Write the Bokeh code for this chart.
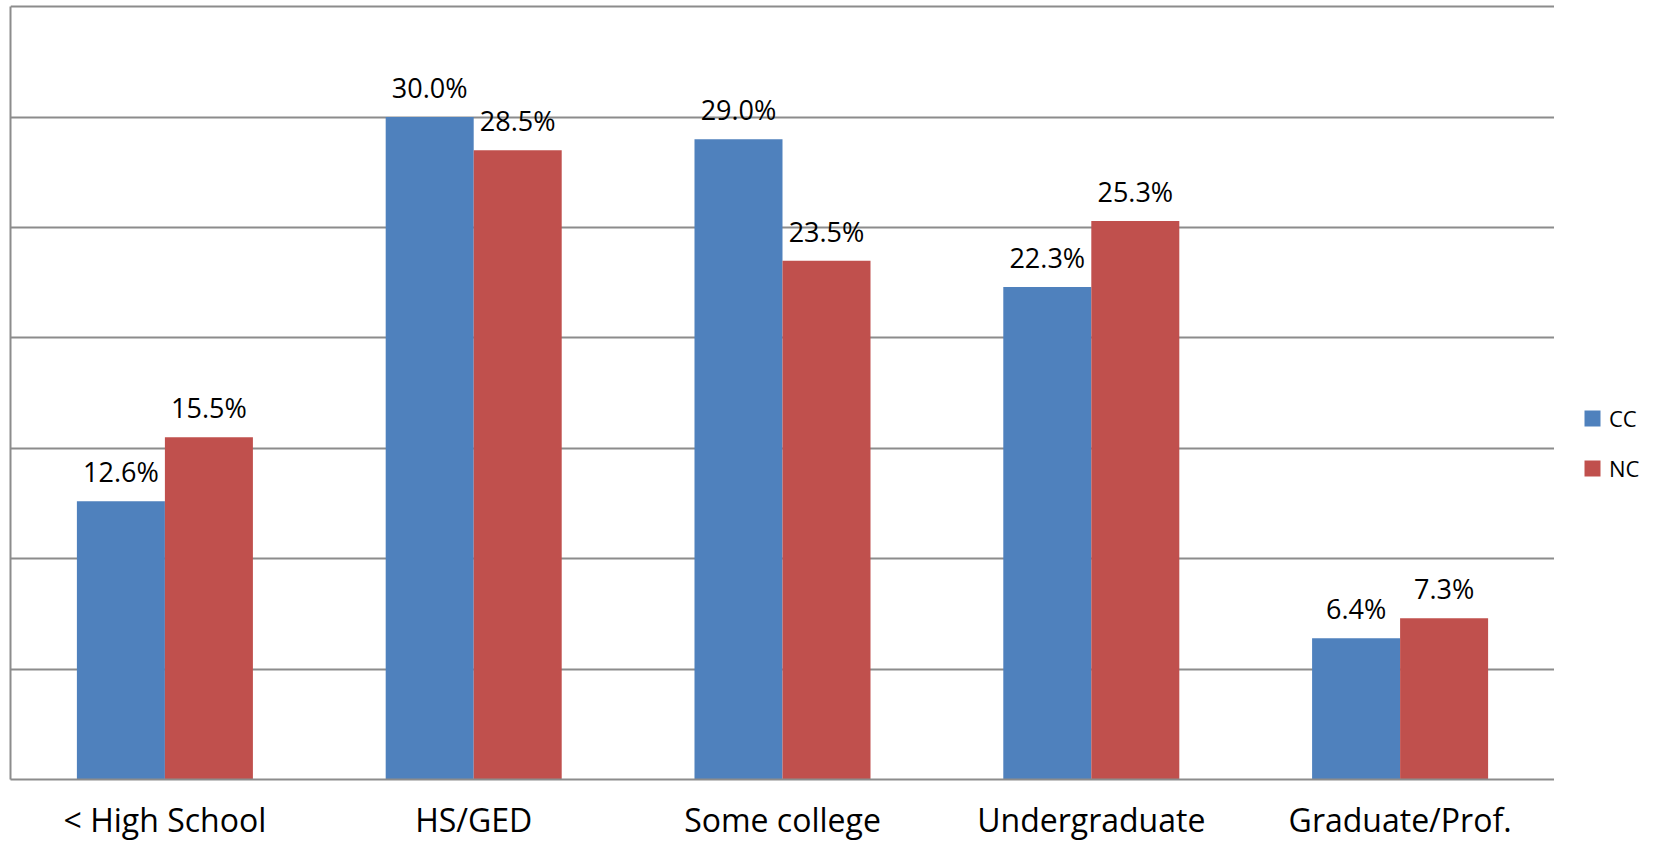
from bokeh.plotting import figure
from bokeh.layouts import row
from bokeh.models import ColumnDataSource, FactorRange, Range1d, LabelSet, Legend, LegendItem, FixedTicker
from bokeh.transform import dodge
from bokeh.core.properties import value
from bokeh.embed import file_html
from bokeh.resources import INLINE

categories = ["< High School", "HS/GED", "Some college", "Undergraduate", "Graduate/Prof."]
cc_values = [12.6, 30.0, 29.0, 22.3, 6.4]
nc_values = [15.5, 28.5, 23.5, 25.3, 7.3]
series_names = ["CC", "NC"]
y_ticks = [0, 5, 10, 15, 20, 25, 30, 35]

BLUE = "#4F81BD"
RED = "#C0504D"
GRID = "#8C8C8C"
FONT = "Open Sans"

src = ColumnDataSource(data=dict(
    cat=categories,
    cc=cc_values,
    nc=nc_values,
    cc_lab=["%.1f%%" % v for v in cc_values],
    nc_lab=["%.1f%%" % v for v in nc_values],
))

p = figure(x_range=FactorRange(*categories, range_padding=0), y_range=Range1d(0, 35.1),
           width=1554, height=843, output_backend="svg", toolbar_location=None,
           min_border_left=10, min_border_top=4, min_border_bottom=0, min_border_right=0)
p.outline_line_color = None
p.background_fill_color = "white"
p.border_fill_color = "white"

r_cc = p.vbar(x=dodge("cat", -0.1425, range=p.x_range), top="cc", width=0.285, source=src,
              fill_color=BLUE, line_color=None)
r_nc = p.vbar(x=dodge("cat", 0.1425, range=p.x_range), top="nc", width=0.285, source=src,
              fill_color=RED, line_color=None)

for col, ycol, off in (("cc_lab", "cc", -0.1425), ("nc_lab", "nc", 0.1425)):
    p.add_layout(LabelSet(x=dodge("cat", off, range=p.x_range), y=ycol, text=col, source=src,
                          y_offset=19, text_align="center", text_baseline="alphabetic",
                          text_font=value(FONT), text_font_size="27px", text_color="black"))

p.xgrid.grid_line_color = None
p.ygrid.ticker = FixedTicker(ticks=y_ticks)
p.ygrid.grid_line_color = GRID
p.ygrid.grid_line_width = 2

p.yaxis.ticker = FixedTicker(ticks=[])
p.yaxis.major_label_standoff = 0
p.yaxis.major_tick_line_color = None
p.yaxis.major_tick_out = 0
p.yaxis.minor_tick_line_color = None
p.yaxis.axis_line_color = GRID
p.yaxis.axis_line_width = 2
p.yaxis.bounds = (0, 35)

p.xaxis.axis_line_color = GRID
p.xaxis.axis_line_width = 2
p.xaxis.major_tick_line_color = None
p.xaxis.minor_tick_line_color = None
p.xaxis.major_tick_out = 0
p.xaxis.major_label_standoff = 18
p.xaxis.major_label_text_font = FONT
p.xaxis.major_label_text_font_size = "32px"
p.xaxis.major_label_text_color = "black"

# side panel holding the legend (zero-size swatch renderers, only used as legend keys)
p2 = figure(width=91, height=843, output_backend="svg", toolbar_location=None,
            x_axis_type=None, y_axis_type=None, x_range=Range1d(0, 1), y_range=Range1d(0, 1),
            min_border=0)
p2.outline_line_color = None
p2.background_fill_color = "white"
p2.border_fill_color = "white"
key_src = ColumnDataSource(data=dict(x=[0.5], top=[0]))
k_cc = p2.vbar(x="x", top="top", width=0, source=key_src, fill_color=BLUE, line_color=None)
k_nc = p2.vbar(x="x", top="top", width=0, source=key_src, fill_color=RED, line_color=None)

legend = Legend(items=[LegendItem(label=series_names[0], renderers=[k_cc]),
                       LegendItem(label=series_names[1], renderers=[k_nc])],
                location=(28, 296))
legend.border_line_color = None
legend.background_fill_alpha = 0
legend.margin = 0
legend.padding = 0
legend.glyph_width = 20
legend.glyph_height = 20
legend.label_height = 20
legend.spacing = 20
legend.label_standoff = 7
legend.label_text_font = FONT
legend.label_text_font_size = "22px"
legend.label_text_color = "black"
legend.label_text_baseline = "middle"
p2.add_layout(legend, "center")

layout = row(p, p2, spacing=0)
open("out.html", "w").write(file_html(layout, INLINE))
